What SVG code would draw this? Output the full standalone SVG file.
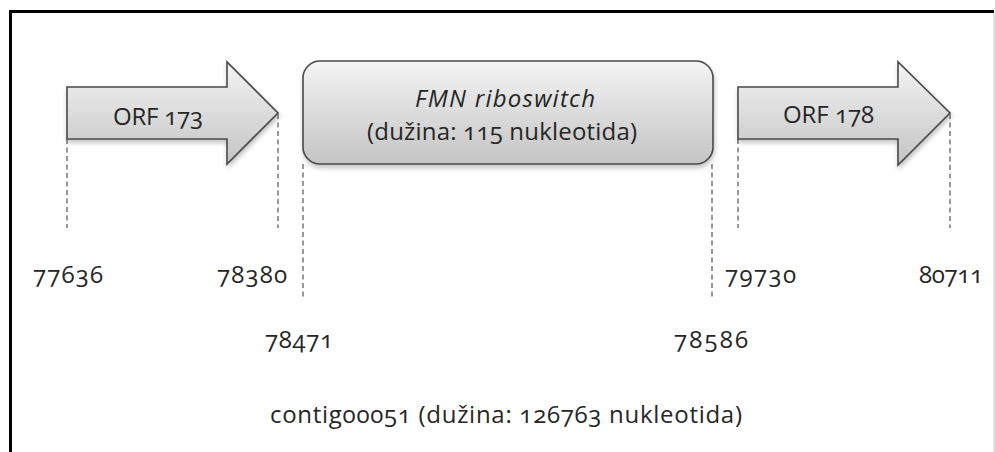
<svg xmlns="http://www.w3.org/2000/svg" width="995" height="452" viewBox="0 0 995 452">
  <style>
    .lbl { font-family: "Open Sans", "Lato", "Liberation Sans", sans-serif; font-size: 24px; fill: #262626; font-variant-numeric: oldstyle-nums; font-feature-settings: "onum" 1; }
    .guide { stroke: #555; stroke-width: 1.2; stroke-dasharray: 5 3.5; fill: none; }
    .shape { stroke: #4a4a4a; stroke-width: 1.6; }
  </style>
  <defs>
    <linearGradient id="gShape" x1="0" y1="0" x2="0" y2="1">
      <stop offset="0" stop-color="#f4f4f4"/>
      <stop offset="1" stop-color="#c4c4c4"/>
    </linearGradient>
    <filter id="shadow" x="-10%" y="-10%" width="120%" height="130%">
      <feGaussianBlur in="SourceAlpha" stdDeviation="2.5"/>
      <feOffset dx="1" dy="3" result="b"/>
      <feComponentTransfer><feFuncA type="linear" slope="0.25"/></feComponentTransfer>
      <feMerge><feMergeNode/><feMergeNode in="SourceGraphic"/></feMerge>
    </filter>
  </defs>

  <rect x="0" y="0" width="995" height="452" fill="#fff"/>
  <!-- outer frame: left and top drawn heavy, right edge faint -->
  <path d="M10.5,452 V11.5 H994" fill="none" stroke="#000" stroke-width="3"/>
  <line x1="994" y1="13" x2="994" y2="452" stroke="#c8c8c8" stroke-width="1"/>

  <!-- position guides -->
  <g id="connectors">
    <line class="guide" x1="67" y1="139" x2="67" y2="228"/>
    <line class="guide" x1="278" y1="114" x2="278" y2="228"/>
    <line class="guide" x1="303" y1="164" x2="303" y2="299"/>
    <line class="guide" x1="712" y1="164" x2="712" y2="299"/>
    <line class="guide" x1="738" y1="139" x2="738" y2="228"/>
    <line class="guide" x1="950" y1="114" x2="950" y2="228"/>
  </g>

  <g id="orf173">
    <path class="shape" fill="url(#gShape)" filter="url(#shadow)" d="M67,87 H227 V62 L278,113 L227,164 V139 H67 Z"/>
    <text class="lbl" x="113" y="125" textLength="90" lengthAdjust="spacing">ORF 173</text>
  </g>

  <g id="fmn">
    <rect class="shape" fill="url(#gShape)" filter="url(#shadow)" x="303" y="61" width="410" height="103" rx="17"/>
    <text class="lbl" x="415" y="107" font-style="italic" textLength="180" lengthAdjust="spacing">FMN riboswitch</text>
    <text class="lbl" x="367" y="140" textLength="270" lengthAdjust="spacing">(dužina: 115 nukleotida)</text>
  </g>

  <g id="orf178">
    <path class="shape" fill="url(#gShape)" filter="url(#shadow)" d="M738,87 H898 V62 L950,113 L898,165 V139 H738 Z"/>
    <text class="lbl" x="783" y="123" textLength="91" lengthAdjust="spacing">ORF 178</text>
  </g>

  <g id="positions">
    <text class="lbl" x="33" y="283" textLength="70" lengthAdjust="spacing">77636</text>
    <text class="lbl" x="217" y="283" textLength="70" lengthAdjust="spacing">78380</text>
    <text class="lbl" x="265" y="348" textLength="68" lengthAdjust="spacing">78471</text>
    <text class="lbl" x="674" y="348" textLength="74" lengthAdjust="spacing">78586</text>
    <text class="lbl" x="725" y="283" textLength="71" lengthAdjust="spacing">79730</text>
    <text class="lbl" x="919" y="283" textLength="64" lengthAdjust="spacing">80711</text>
  </g>

  <g id="contig">
    <text class="lbl" x="270" y="423" textLength="472" lengthAdjust="spacing">contig00051 (dužina: 126763 nukleotida)</text>
  </g>
</svg>
